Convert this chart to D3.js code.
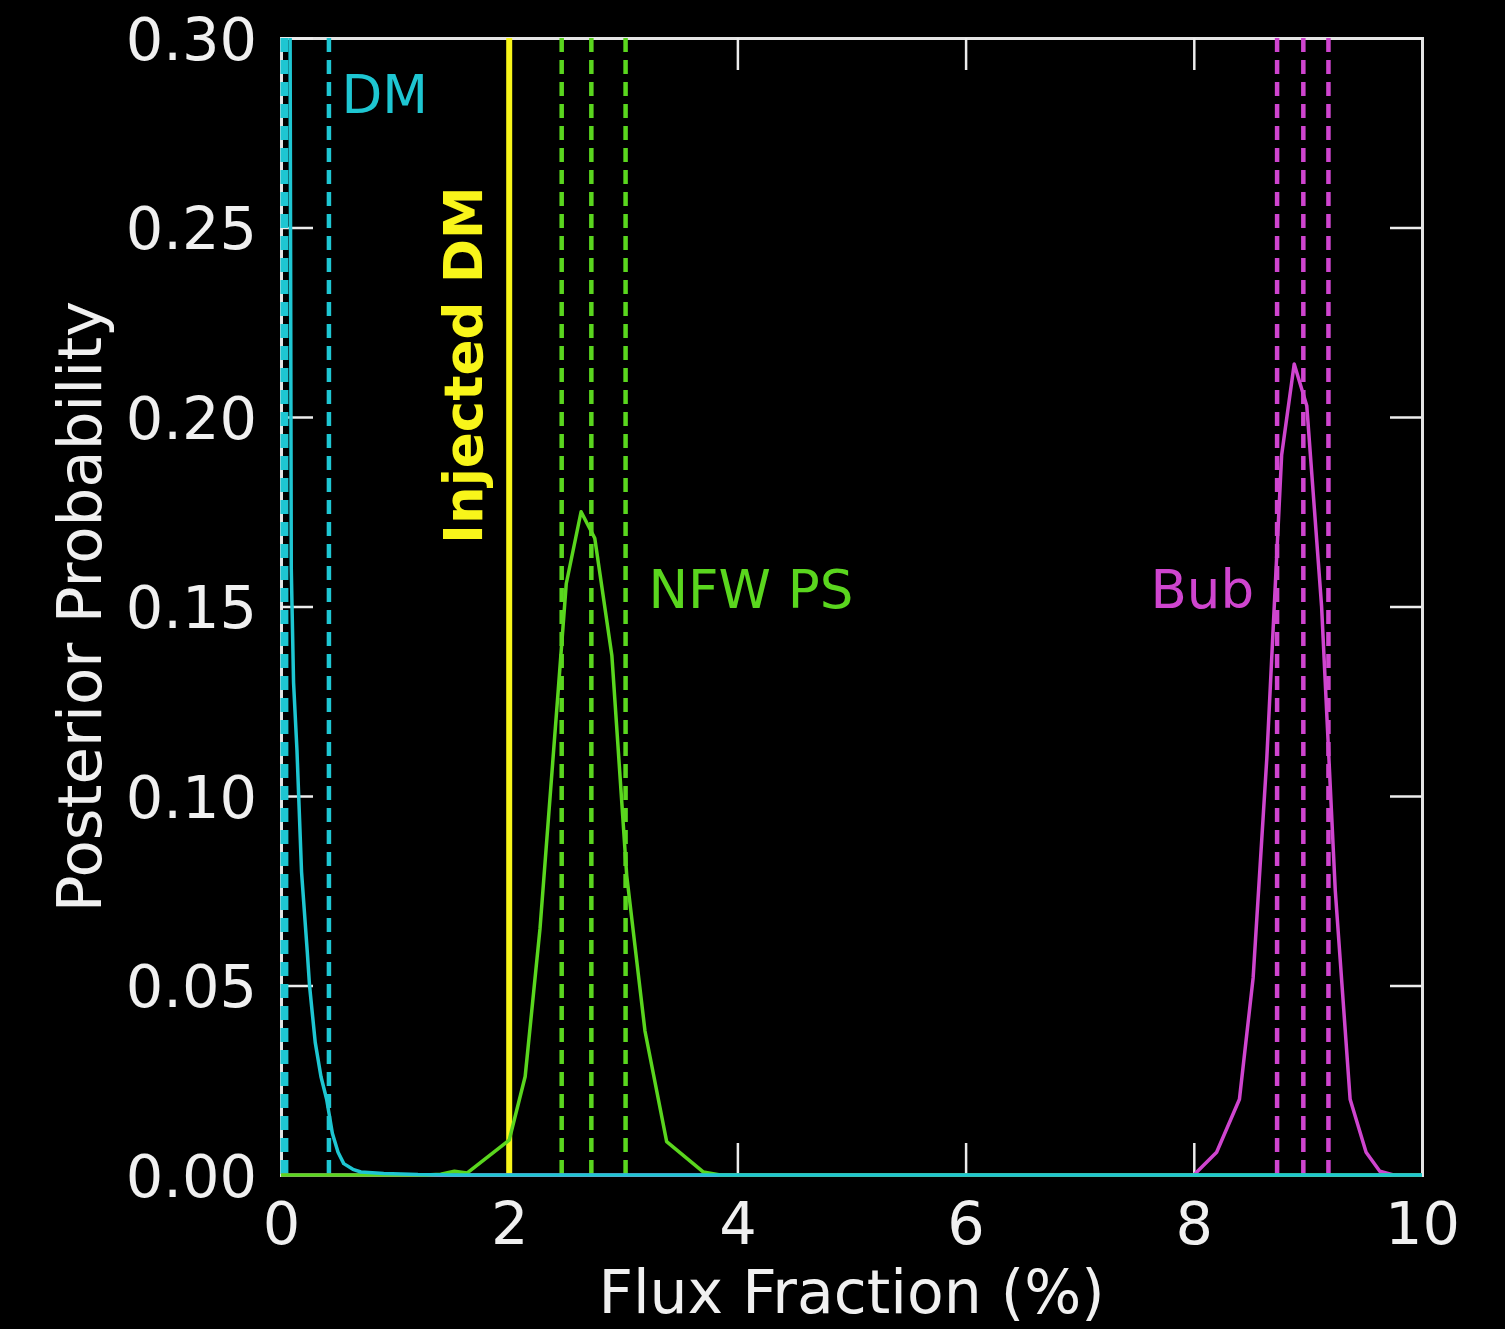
<!DOCTYPE html>
<html><head><meta charset="utf-8">
<script src="https://cdn.jsdelivr.net/npm/d3@7"></script>
<style>
html,body{margin:0;padding:0;background:#000;}
svg{display:block;}
text{font-family:"DejaVu Sans",sans-serif;}
</style></head>
<body>
<script>
// ---- data ----
const xTicks = [0, 2, 4, 6, 8, 10];
const yTicks = [0, 0.05, 0.10, 0.15, 0.20, 0.25, 0.30];
const xLabel = "Flux Fraction (%)";
const yLabel = "Posterior Probability";

const dmX = [0, 0.07, 0.08, 0.09, 0.11, 0.14, 0.18, 0.23, 0.25, 0.30, 0.35, 0.40, 0.45, 0.50, 0.55, 0.63, 0.70, 0.90, 1.20, 1.50, 10];
const dmY = [0.9, 0.45, 0.30, 0.16, 0.13, 0.112, 0.08, 0.059, 0.05, 0.035, 0.026, 0.020, 0.011, 0.006, 0.003, 0.0015, 0.0008, 0.0004, 0.0001, 0, 0];

const nfwX = [0, 1.27, 1.40, 1.52, 1.63, 2.00, 2.14, 2.27, 2.43, 2.50, 2.63, 2.75, 2.90, 3.03, 3.19, 3.38, 3.70, 3.85, 10];
const nfwY = [0, 0, 0.0002, 0.001, 0.0005, 0.0092, 0.026, 0.065, 0.128, 0.156, 0.175, 0.168, 0.137, 0.079, 0.038, 0.0088, 0.0008, 0, 0];

const bubX = [0, 8.00, 8.20, 8.40, 8.52, 8.64, 8.77, 8.88, 8.99, 9.12, 9.24, 9.37, 9.51, 9.63, 9.75, 10];
const bubY = [0, 0, 0.006, 0.020, 0.052, 0.110, 0.190, 0.214, 0.203, 0.150, 0.075, 0.020, 0.006, 0.001, 0, 0];

const dmQuantiles = [0.015, 0.045, 0.42];
const nfwQuantiles = [2.46, 2.72, 3.02];
const bubQuantiles = [8.73, 8.96, 9.18];
const injectedDM = 2.0;

const labels = [
  {text: "DM", x: 0.53, y: 0.2802, color: "dm"},
  {text: "NFW PS", x: 3.22, y: 0.1497, color: "nfw"},
  {text: "Bub", x: 7.62, y: 0.1497, color: "bub"}
];

// ---- style ----
const colors = {dm: "#1ec6d2", nfw: "#5ad61e", bub: "#cf45cf", inj: "#f8f51a"};
const W = 1505, H = 1329;
const m = {left: 281, right: 1505 - 1422, top: 38, bottom: 1329 - 1175};

const svg = d3.select("body").append("svg").attr("width", W).attr("height", H)
  .style("background", "#000");

const x = d3.scaleLinear().domain([0, 10]).range([m.left, W - m.right]);
const y = d3.scaleLinear().domain([0, 0.30]).range([H - m.bottom, m.top]);

svg.append("rect").attr("width", W).attr("height", H).attr("fill", "#000");

svg.append("defs").append("clipPath").attr("id", "clip")
  .append("rect").attr("x", x(0) - 2).attr("y", y(0.30)).attr("width", x(10) - x(0) + 2).attr("height", y(0) - y(0.30) + 2);

const tickLen = 32;
const axB = svg.append("g").attr("transform", `translate(0,${y(0)})`)
  .call(d3.axisBottom(x).tickValues(xTicks).tickSize(-tickLen).tickPadding(27).tickFormat(d3.format("d")));
const axT = svg.append("g").attr("transform", `translate(0,${y(0.30)})`)
  .call(d3.axisTop(x).tickValues(xTicks).tickSize(-tickLen).tickFormat(""));
const axL = svg.append("g").attr("transform", `translate(${x(0)},0)`)
  .call(d3.axisLeft(y).tickValues(yTicks).tickSize(-tickLen).tickPadding(24).tickFormat(d3.format(".2f")));
const axR = svg.append("g").attr("transform", `translate(${x(10)},0)`)
  .call(d3.axisRight(y).tickValues(yTicks).tickSize(-tickLen).tickFormat(""));

[axB, axT, axL, axR].forEach(g => {
  g.select(".domain").attr("stroke", "#e4e4e4").attr("stroke-width", 3);
  g.selectAll(".tick line").attr("stroke", "#ececec").attr("stroke-width", 2.5);
  g.selectAll(".tick text").attr("fill", "#f0f0f0").style("font-size", "59px").style("font-family", "DejaVu Sans");
});
axL.selectAll(".tick text").attr("dy", "0.36em");
axB.selectAll(".tick text").attr("dy", "0.71em");

// axis titles
svg.append("text").attr("x", (x(0) + x(10)) / 2).attr("y", 1313)
  .attr("text-anchor", "middle").attr("fill", "#f0f0f0").style("font-size", "60px").text(xLabel);
svg.append("text").attr("transform", `translate(101,${(y(0) + y(0.30)) / 2}) rotate(-90)`)
  .attr("text-anchor", "middle").attr("fill", "#f0f0f0").style("font-size", "61px").text(yLabel);

const plot = svg.append("g").attr("clip-path", "url(#clip)");

const line = d3.line().x(d => x(d[0])).y(d => y(d[1]));
const series = [
  {xs: dmX, ys: dmY, c: colors.dm, q: dmQuantiles},
  {xs: nfwX, ys: nfwY, c: colors.nfw, q: nfwQuantiles},
  {xs: bubX, ys: bubY, c: colors.bub, q: bubQuantiles}
];

// quantile dashed lines
series.forEach(s => {
  plot.selectAll(null).data(s.q).enter().append("line")
    .attr("x1", d => x(d)).attr("x2", d => x(d))
    .attr("y1", y(0.30)).attr("y2", y(0))
    .attr("stroke", s.c).attr("stroke-width", 4.5).attr("stroke-dasharray", "14,8");
});

// injected DM line
plot.append("line").attr("x1", x(injectedDM)).attr("x2", x(injectedDM))
  .attr("y1", y(0.30)).attr("y2", y(0)).attr("stroke", colors.inj).attr("stroke-width", 6);

// curves
[series[2], series[1], series[0]].forEach(s => {
  plot.append("path").datum(s.xs.map((v, i) => [v, s.ys[i]]))
    .attr("d", line).attr("fill", "none").attr("stroke", s.c).attr("stroke-width", 3.5)
    .attr("stroke-linejoin", "round");
});

// labels
labels.forEach(l => {
  svg.append("text").attr("x", x(l.x)).attr("y", y(l.y))
    .attr("fill", colors[l.color]).style("font-size", "53px").text(l.text);
});
svg.append("text").attr("transform", `translate(${x(1.762)},${y(0.2137)}) rotate(-90)`)
  .attr("text-anchor", "middle").attr("fill", colors.inj).style("font-size", "53px")
  .style("font-weight", "bold").text("Injected DM");
</script>
</body></html>
